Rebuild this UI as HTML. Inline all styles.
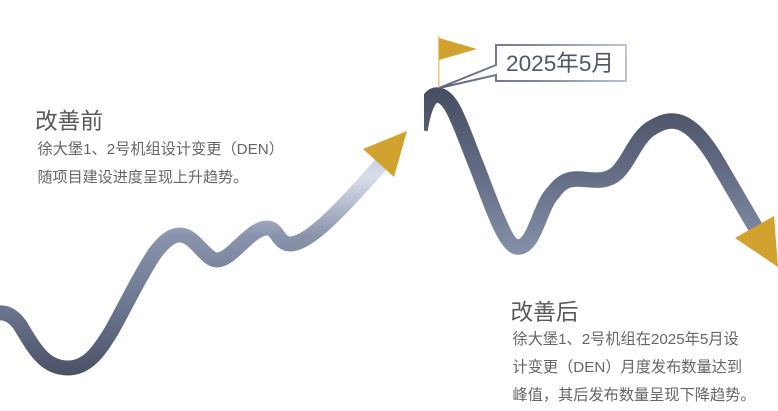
<!DOCTYPE html>
<html>
<head>
<meta charset="utf-8">
<style>
html,body{margin:0;padding:0;background:#fff;}
body{width:778px;height:411px;overflow:hidden;position:relative;}
svg{position:absolute;left:0;top:0;filter:blur(0.35px);}
.t{font-family:"Liberation Sans","Noto Sans CJK SC",sans-serif;text-spacing-trim:space-all;font-kerning:none;}
</style>
</head>
<body>
<svg width="778" height="411" viewBox="0 0 778 411" xmlns="http://www.w3.org/2000/svg">
<defs>
<linearGradient id="g1" gradientUnits="userSpaceOnUse" x1="0" y1="378" x2="0" y2="150">
<stop offset="0" stop-color="#4a5064"/>
<stop offset="0.3" stop-color="#6b748e"/>
<stop offset="0.62" stop-color="#8a93ac"/>
<stop offset="0.88" stop-color="#d8deea"/>
<stop offset="1" stop-color="#bcc8de"/>
</linearGradient>
<linearGradient id="g2" gradientUnits="userSpaceOnUse" x1="0" y1="88" x2="0" y2="255">
<stop offset="0" stop-color="#474d60"/>
<stop offset="0.5" stop-color="#636c84"/>
<stop offset="1" stop-color="#8690a8"/>
</linearGradient>
<linearGradient id="g3" gradientUnits="userSpaceOnUse" x1="440" y1="90" x2="626" y2="44">
<stop offset="0" stop-color="#5c6580"/>
<stop offset="0.5" stop-color="#7c86a0"/>
<stop offset="1" stop-color="#c0c7d8"/>
</linearGradient>
<clipPath id="c2"><rect x="424" y="0" width="354" height="411"/></clipPath>
</defs>

<path d="M-5 313 C5 312 12 314 20 325 C35 350 45 368 68 368 C88 368 100 350 112 330 C125 307 140 275 155 253 C165 240 172 235 180 235 C195 235 205 260 217 260 C232 260 250 228 267 228 C278 228 278 244 290 244 C310 244 345 205 385 160" fill="none" stroke="url(#g1)" stroke-width="15"/>
<polygon points="363,149 407,131 394,177" fill="#d2a22e"/>

<g clip-path="url(#c2)">
<path d="M420 130 C424 105 430 95 437 95 C452 95 460 125 477 167 C490 200 505 247 518 247 C535 247 540 205 553 193 C562 180 570 179 578 179 C590 179 605 184 617 173 C630 160 635 140 650 129 C660 123 665 121 672 121 C690 121 705 142 715 158 L757 230" fill="none" stroke="url(#g2)" stroke-width="15.5"/>
</g>
<polygon points="735,238 774,216 778,267" fill="#d2a22e"/>

<rect x="438" y="36" width="1.6" height="52" fill="#e9cd86"/>
<polygon points="439,38 477,49 439,60" fill="#d2a22e"/>

<path d="M496 45 H626 V81 H496 V75 L439 88 L496 65 Z" fill="#fff" stroke="url(#g3)" stroke-width="2"/>
<text class="t" x="506" y="71" font-size="22.6" fill="#505669">2025年5月</text>

<text class="t" x="35" y="129" font-size="22.7" fill="#595959">改善前</text>
<text class="t" x="37.5" y="154" font-size="15.2" fill="#666">徐大堡1、2号机组设计变更（DEN）</text>
<text class="t" x="37.5" y="182" font-size="15.05" fill="#666">随项目建设进度呈现上升趋势。</text>

<text class="t" x="510.5" y="320" font-size="22.7" fill="#595959">改善后</text>
<text class="t" x="512.5" y="344" font-size="15.2" fill="#666">徐大堡1、2号机组在2025年5月设</text>
<text class="t" x="512.5" y="372" font-size="15.2" fill="#666">计变更（DEN）月度发布数量达到</text>
<text class="t" x="512.5" y="400" font-size="15.2" fill="#666">峰值，其后发布数量呈现下降趋势。</text>
</svg>
</body>
</html>
